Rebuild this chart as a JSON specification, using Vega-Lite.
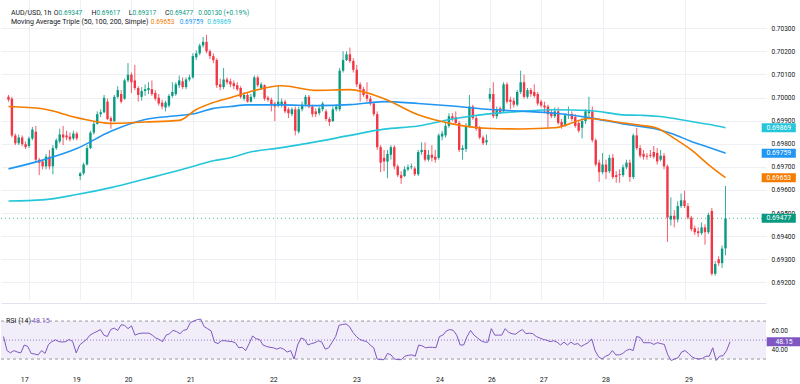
{
  "$schema": "https://vega.github.io/schema/vega-lite/v6.json",
  "padding": 0,
  "background": "white",
  "spacing": 5,
  "config": {
    "view": {"stroke": null},
    "font": "Roboto",
    "axis": {"labelFont": "Roboto", "labelColor": "#131722", "domain": false, "ticks": false, "gridColor": "#eef0f5", "gridWidth": 1, "labelOverlap": false}
  },
  "datasets": {
    "one": [{}],
    "candles": [
      {"i":0,"o":0.70003,"h":0.70011,"l":0.69982,"c":0.69990,"rsi":53.7},
      {"i":1,"o":0.69995,"h":0.70003,"l":0.69827,"c":0.69836,"rsi":38.9},
      {"i":2,"o":0.69836,"h":0.69844,"l":0.69794,"c":0.69802,"rsi":36.5},
      {"i":3,"o":0.69802,"h":0.69840,"l":0.69794,"c":0.69827,"rsi":38.9},
      {"i":4,"o":0.69827,"h":0.69836,"l":0.69790,"c":0.69798,"rsi":37.4},
      {"i":5,"o":0.69798,"h":0.69810,"l":0.69777,"c":0.69785,"rsi":36.5},
      {"i":6,"o":0.69790,"h":0.69831,"l":0.69781,"c":0.69823,"rsi":44.8},
      {"i":7,"o":0.69823,"h":0.69873,"l":0.69815,"c":0.69861,"rsi":43.3},
      {"i":8,"o":0.69852,"h":0.69877,"l":0.69723,"c":0.69731,"rsi":35.9},
      {"i":9,"o":0.69731,"h":0.69739,"l":0.69664,"c":0.69718,"rsi":35.3},
      {"i":10,"o":0.69723,"h":0.69731,"l":0.69689,"c":0.69702,"rsi":34.4},
      {"i":11,"o":0.69702,"h":0.69756,"l":0.69689,"c":0.69744,"rsi":38.9},
      {"i":12,"o":0.69744,"h":0.69773,"l":0.69689,"c":0.69702,"rsi":35.9},
      {"i":13,"o":0.69702,"h":0.69794,"l":0.69668,"c":0.69781,"rsi":45.4},
      {"i":14,"o":0.69781,"h":0.69823,"l":0.69773,"c":0.69815,"rsi":48.4},
      {"i":15,"o":0.69810,"h":0.69865,"l":0.69802,"c":0.69840,"rsi":50.1},
      {"i":16,"o":0.69840,"h":0.69877,"l":0.69794,"c":0.69827,"rsi":48.4},
      {"i":17,"o":0.69836,"h":0.69856,"l":0.69815,"c":0.69827,"rsi":47.9},
      {"i":18,"o":0.69831,"h":0.69848,"l":0.69810,"c":0.69819,"rsi":48.4},
      {"i":19,"o":0.69823,"h":0.69856,"l":0.69815,"c":0.69844,"rsi":50.7},
      {"i":20,"o":0.69844,"h":0.69852,"l":0.69815,"c":0.69823,"rsi":48.4},
      {"i":21,"o":0.69660,"h":0.69677,"l":0.69643,"c":0.69672,"rsi":36.5},
      {"i":22,"o":0.69672,"h":0.69718,"l":0.69664,"c":0.69710,"rsi":44.8},
      {"i":23,"o":0.69710,"h":0.69794,"l":0.69706,"c":0.69781,"rsi":47.8},
      {"i":24,"o":0.69781,"h":0.69856,"l":0.69777,"c":0.69848,"rsi":50.7},
      {"i":25,"o":0.69848,"h":0.69898,"l":0.69840,"c":0.69886,"rsi":55.2},
      {"i":26,"o":0.69886,"h":0.69940,"l":0.69882,"c":0.69928,"rsi":57.3},
      {"i":27,"o":0.69928,"h":0.69949,"l":0.69915,"c":0.69936,"rsi":59.0},
      {"i":28,"o":0.69936,"h":0.70011,"l":0.69932,"c":0.69999,"rsi":61.1},
      {"i":29,"o":0.69982,"h":0.69995,"l":0.69903,"c":0.69907,"rsi":55.2},
      {"i":30,"o":0.69911,"h":0.69919,"l":0.69865,"c":0.69898,"rsi":53.7},
      {"i":31,"o":0.69898,"h":0.70011,"l":0.69894,"c":0.70003,"rsi":61.1},
      {"i":32,"o":0.70003,"h":0.70049,"l":0.69995,"c":0.70032,"rsi":62.6},
      {"i":33,"o":0.70015,"h":0.70032,"l":0.69974,"c":0.69982,"rsi":60.2},
      {"i":34,"o":0.69995,"h":0.70082,"l":0.69990,"c":0.70074,"rsi":66.1},
      {"i":35,"o":0.70074,"h":0.70149,"l":0.70066,"c":0.70099,"rsi":65.5},
      {"i":36,"o":0.70099,"h":0.70108,"l":0.70020,"c":0.70066,"rsi":62.0},
      {"i":37,"o":0.70074,"h":0.70141,"l":0.70032,"c":0.70041,"rsi":65.0},
      {"i":38,"o":0.70041,"h":0.70049,"l":0.69982,"c":0.70011,"rsi":55.2},
      {"i":39,"o":0.70003,"h":0.70045,"l":0.69986,"c":0.70028,"rsi":56.7},
      {"i":40,"o":0.70028,"h":0.70057,"l":0.70007,"c":0.70036,"rsi":57.3},
      {"i":41,"o":0.70032,"h":0.70066,"l":0.70015,"c":0.70041,"rsi":57.3},
      {"i":42,"o":0.70036,"h":0.70074,"l":0.70007,"c":0.70015,"rsi":57.3},
      {"i":43,"o":0.70020,"h":0.70032,"l":0.69986,"c":0.69995,"rsi":55.2},
      {"i":44,"o":0.69999,"h":0.70015,"l":0.69965,"c":0.69974,"rsi":52.2},
      {"i":45,"o":0.69978,"h":0.69990,"l":0.69949,"c":0.69961,"rsi":50.7},
      {"i":46,"o":0.69957,"h":0.69986,"l":0.69940,"c":0.69978,"rsi":48.4},
      {"i":47,"o":0.69965,"h":0.70015,"l":0.69957,"c":0.70007,"rsi":55.2},
      {"i":48,"o":0.70007,"h":0.70066,"l":0.69999,"c":0.70024,"rsi":56.7},
      {"i":49,"o":0.70015,"h":0.70066,"l":0.70007,"c":0.70057,"rsi":60.2},
      {"i":50,"o":0.70053,"h":0.70095,"l":0.70041,"c":0.70074,"rsi":59.0},
      {"i":51,"o":0.70070,"h":0.70087,"l":0.70036,"c":0.70045,"rsi":56.7},
      {"i":52,"o":0.70045,"h":0.70087,"l":0.70036,"c":0.70078,"rsi":60.2},
      {"i":53,"o":0.70078,"h":0.70099,"l":0.70070,"c":0.70087,"rsi":61.1},
      {"i":54,"o":0.70087,"h":0.70191,"l":0.70082,"c":0.70179,"rsi":68.5},
      {"i":55,"o":0.70174,"h":0.70204,"l":0.70162,"c":0.70191,"rsi":70.0},
      {"i":56,"o":0.70191,"h":0.70233,"l":0.70183,"c":0.70225,"rsi":71.5},
      {"i":57,"o":0.70225,"h":0.70262,"l":0.70216,"c":0.70241,"rsi":72.1},
      {"i":58,"o":0.70241,"h":0.70271,"l":0.70191,"c":0.70200,"rsi":64.1},
      {"i":59,"o":0.70200,"h":0.70208,"l":0.70166,"c":0.70179,"rsi":62.0},
      {"i":60,"o":0.70179,"h":0.70191,"l":0.70149,"c":0.70162,"rsi":59.6},
      {"i":61,"o":0.70162,"h":0.70170,"l":0.70041,"c":0.70053,"rsi":47.8},
      {"i":62,"o":0.70057,"h":0.70082,"l":0.70032,"c":0.70045,"rsi":46.3},
      {"i":63,"o":0.70045,"h":0.70128,"l":0.70036,"c":0.70078,"rsi":49.3},
      {"i":64,"o":0.70078,"h":0.70087,"l":0.70057,"c":0.70066,"rsi":49.3},
      {"i":65,"o":0.70070,"h":0.70082,"l":0.70045,"c":0.70057,"rsi":48.7},
      {"i":66,"o":0.70062,"h":0.70074,"l":0.70036,"c":0.70049,"rsi":48.4},
      {"i":67,"o":0.70053,"h":0.70066,"l":0.70028,"c":0.70036,"rsi":47.2},
      {"i":68,"o":0.70041,"h":0.70049,"l":0.69995,"c":0.70003,"rsi":41.9},
      {"i":69,"o":0.69995,"h":0.70024,"l":0.69986,"c":0.70011,"rsi":42.4},
      {"i":70,"o":0.70011,"h":0.70024,"l":0.69978,"c":0.69982,"rsi":38.9},
      {"i":71,"o":0.69982,"h":0.70015,"l":0.69978,"c":0.70003,"rsi":46.3},
      {"i":72,"o":0.70003,"h":0.70095,"l":0.69995,"c":0.70087,"rsi":54.3},
      {"i":73,"o":0.70087,"h":0.70095,"l":0.70045,"c":0.70053,"rsi":51.3},
      {"i":74,"o":0.70041,"h":0.70066,"l":0.70032,"c":0.70057,"rsi":50.7},
      {"i":75,"o":0.70053,"h":0.70057,"l":0.69986,"c":0.69995,"rsi":44.8},
      {"i":76,"o":0.69999,"h":0.70007,"l":0.69982,"c":0.69990,"rsi":43.3},
      {"i":77,"o":0.69990,"h":0.69999,"l":0.69940,"c":0.69969,"rsi":42.4},
      {"i":78,"o":0.69974,"h":0.69982,"l":0.69898,"c":0.69961,"rsi":41.9},
      {"i":79,"o":0.69965,"h":0.70053,"l":0.69957,"c":0.69982,"rsi":40.4},
      {"i":80,"o":0.69969,"h":0.69995,"l":0.69957,"c":0.69982,"rsi":41.9},
      {"i":81,"o":0.69982,"h":0.69990,"l":0.69932,"c":0.69940,"rsi":40.4},
      {"i":82,"o":0.69949,"h":0.69957,"l":0.69911,"c":0.69932,"rsi":37.4},
      {"i":83,"o":0.69928,"h":0.69957,"l":0.69919,"c":0.69949,"rsi":38.9},
      {"i":84,"o":0.69949,"h":0.69961,"l":0.69836,"c":0.69856,"rsi":30.0},
      {"i":85,"o":0.69852,"h":0.69961,"l":0.69844,"c":0.69949,"rsi":44.8},
      {"i":86,"o":0.69949,"h":0.69982,"l":0.69940,"c":0.69969,"rsi":52.2},
      {"i":87,"o":0.69969,"h":0.70011,"l":0.69961,"c":0.70003,"rsi":50.7},
      {"i":88,"o":0.70003,"h":0.70011,"l":0.69953,"c":0.69961,"rsi":44.8},
      {"i":89,"o":0.69961,"h":0.69969,"l":0.69915,"c":0.69928,"rsi":46.3},
      {"i":90,"o":0.69940,"h":0.69953,"l":0.69915,"c":0.69928,"rsi":47.2},
      {"i":91,"o":0.69932,"h":0.69961,"l":0.69923,"c":0.69953,"rsi":49.3},
      {"i":92,"o":0.69949,"h":0.69982,"l":0.69940,"c":0.69974,"rsi":47.8},
      {"i":93,"o":0.69940,"h":0.69949,"l":0.69898,"c":0.69907,"rsi":40.4},
      {"i":94,"o":0.69907,"h":0.69915,"l":0.69877,"c":0.69894,"rsi":41.9},
      {"i":95,"o":0.69898,"h":0.69961,"l":0.69894,"c":0.69949,"rsi":47.8},
      {"i":96,"o":0.69949,"h":0.69969,"l":0.69940,"c":0.69961,"rsi":53.7},
      {"i":97,"o":0.69949,"h":0.70128,"l":0.69940,"c":0.70116,"rsi":65.6},
      {"i":98,"o":0.70116,"h":0.70200,"l":0.70108,"c":0.70162,"rsi":66.4},
      {"i":99,"o":0.70162,"h":0.70200,"l":0.70158,"c":0.70187,"rsi":67.0},
      {"i":100,"o":0.70187,"h":0.70216,"l":0.70149,"c":0.70158,"rsi":64.1},
      {"i":101,"o":0.70158,"h":0.70170,"l":0.70108,"c":0.70120,"rsi":58.1},
      {"i":102,"o":0.70120,"h":0.70141,"l":0.70045,"c":0.70057,"rsi":53.7},
      {"i":103,"o":0.70057,"h":0.70066,"l":0.69982,"c":0.70036,"rsi":50.7},
      {"i":104,"o":0.70036,"h":0.70045,"l":0.70003,"c":0.70011,"rsi":49.3},
      {"i":105,"o":0.70011,"h":0.70066,"l":0.69982,"c":0.69995,"rsi":48.4},
      {"i":106,"o":0.69995,"h":0.70007,"l":0.69965,"c":0.69974,"rsi":44.8},
      {"i":107,"o":0.69974,"h":0.69982,"l":0.69919,"c":0.69928,"rsi":41.9},
      {"i":108,"o":0.69928,"h":0.69940,"l":0.69773,"c":0.69785,"rsi":30.0},
      {"i":109,"o":0.69785,"h":0.69794,"l":0.69677,"c":0.69718,"rsi":29.4},
      {"i":110,"o":0.69739,"h":0.69773,"l":0.69681,"c":0.69723,"rsi":29.4},
      {"i":111,"o":0.69723,"h":0.69773,"l":0.69651,"c":0.69756,"rsi":35.9},
      {"i":112,"o":0.69752,"h":0.69794,"l":0.69731,"c":0.69785,"rsi":34.4},
      {"i":113,"o":0.69785,"h":0.69794,"l":0.69689,"c":0.69702,"rsi":30.0},
      {"i":114,"o":0.69702,"h":0.69710,"l":0.69656,"c":0.69664,"rsi":29.4},
      {"i":115,"o":0.69664,"h":0.69681,"l":0.69626,"c":0.69651,"rsi":29.4},
      {"i":116,"o":0.69660,"h":0.69702,"l":0.69656,"c":0.69689,"rsi":33.0},
      {"i":117,"o":0.69689,"h":0.69710,"l":0.69681,"c":0.69698,"rsi":33.9},
      {"i":118,"o":0.69698,"h":0.69714,"l":0.69689,"c":0.69702,"rsi":34.4},
      {"i":119,"o":0.69693,"h":0.69702,"l":0.69660,"c":0.69668,"rsi":33.0},
      {"i":120,"o":0.69668,"h":0.69773,"l":0.69660,"c":0.69764,"rsi":44.8},
      {"i":121,"o":0.69764,"h":0.69806,"l":0.69752,"c":0.69773,"rsi":43.9},
      {"i":122,"o":0.69773,"h":0.69806,"l":0.69723,"c":0.69731,"rsi":41.9},
      {"i":123,"o":0.69731,"h":0.69773,"l":0.69723,"c":0.69752,"rsi":42.4},
      {"i":124,"o":0.69752,"h":0.69794,"l":0.69723,"c":0.69739,"rsi":42.4},
      {"i":125,"o":0.69744,"h":0.69773,"l":0.69718,"c":0.69731,"rsi":41.9},
      {"i":126,"o":0.69739,"h":0.69844,"l":0.69731,"c":0.69836,"rsi":53.7},
      {"i":127,"o":0.69831,"h":0.69856,"l":0.69815,"c":0.69844,"rsi":55.2},
      {"i":128,"o":0.69836,"h":0.69890,"l":0.69827,"c":0.69877,"rsi":59.6},
      {"i":129,"o":0.69877,"h":0.69932,"l":0.69869,"c":0.69919,"rsi":61.1},
      {"i":130,"o":0.69919,"h":0.69932,"l":0.69898,"c":0.69907,"rsi":60.2},
      {"i":131,"o":0.69915,"h":0.69940,"l":0.69882,"c":0.69890,"rsi":55.2},
      {"i":132,"o":0.69890,"h":0.69898,"l":0.69764,"c":0.69773,"rsi":44.8},
      {"i":133,"o":0.69773,"h":0.69794,"l":0.69731,"c":0.69781,"rsi":44.8},
      {"i":134,"o":0.69777,"h":0.69890,"l":0.69764,"c":0.69877,"rsi":53.7},
      {"i":135,"o":0.69877,"h":0.70011,"l":0.69869,"c":0.69961,"rsi":60.2},
      {"i":136,"o":0.69961,"h":0.69969,"l":0.69903,"c":0.69911,"rsi":55.2},
      {"i":137,"o":0.69911,"h":0.69919,"l":0.69856,"c":0.69865,"rsi":52.2},
      {"i":138,"o":0.69869,"h":0.69877,"l":0.69819,"c":0.69827,"rsi":49.3},
      {"i":139,"o":0.69827,"h":0.69836,"l":0.69794,"c":0.69802,"rsi":47.8},
      {"i":140,"o":0.69806,"h":0.69840,"l":0.69794,"c":0.69815,"rsi":47.8},
      {"i":141,"o":0.69995,"h":0.70041,"l":0.69982,"c":0.70015,"rsi":62.0},
      {"i":142,"o":0.70015,"h":0.70066,"l":0.69911,"c":0.69919,"rsi":55.2},
      {"i":143,"o":0.69919,"h":0.69961,"l":0.69907,"c":0.69949,"rsi":55.2},
      {"i":144,"o":0.69953,"h":0.69961,"l":0.69928,"c":0.69932,"rsi":55.2},
      {"i":145,"o":0.69940,"h":0.70066,"l":0.69936,"c":0.70057,"rsi":62.0},
      {"i":146,"o":0.70057,"h":0.70066,"l":0.69974,"c":0.69982,"rsi":58.1},
      {"i":147,"o":0.69990,"h":0.70003,"l":0.69949,"c":0.69982,"rsi":56.7},
      {"i":148,"o":0.69986,"h":0.69999,"l":0.69957,"c":0.69969,"rsi":56.1},
      {"i":149,"o":0.69969,"h":0.70032,"l":0.69961,"c":0.70024,"rsi":59.0},
      {"i":150,"o":0.70024,"h":0.70116,"l":0.70015,"c":0.70066,"rsi":61.1},
      {"i":151,"o":0.70066,"h":0.70099,"l":0.69995,"c":0.70003,"rsi":56.7},
      {"i":152,"o":0.70003,"h":0.70041,"l":0.69995,"c":0.70032,"rsi":57.3},
      {"i":153,"o":0.70032,"h":0.70041,"l":0.70003,"c":0.70015,"rsi":56.7},
      {"i":154,"o":0.70024,"h":0.70057,"l":0.69999,"c":0.70007,"rsi":53.7},
      {"i":155,"o":0.70015,"h":0.70024,"l":0.69965,"c":0.69974,"rsi":52.2},
      {"i":156,"o":0.69982,"h":0.69990,"l":0.69957,"c":0.69965,"rsi":50.7},
      {"i":157,"o":0.69965,"h":0.69982,"l":0.69932,"c":0.69957,"rsi":49.9},
      {"i":158,"o":0.69961,"h":0.69969,"l":0.69865,"c":0.69928,"rsi":48.4},
      {"i":159,"o":0.69936,"h":0.69949,"l":0.69911,"c":0.69919,"rsi":49.3},
      {"i":160,"o":0.69919,"h":0.69957,"l":0.69911,"c":0.69940,"rsi":47.8},
      {"i":161,"o":0.69940,"h":0.69957,"l":0.69882,"c":0.69890,"rsi":44.8},
      {"i":162,"o":0.69894,"h":0.69907,"l":0.69865,"c":0.69873,"rsi":47.8},
      {"i":163,"o":0.69882,"h":0.69932,"l":0.69873,"c":0.69923,"rsi":44.8},
      {"i":164,"o":0.69923,"h":0.69961,"l":0.69907,"c":0.69928,"rsi":47.8},
      {"i":165,"o":0.69928,"h":0.69940,"l":0.69898,"c":0.69907,"rsi":45.4},
      {"i":166,"o":0.69915,"h":0.69928,"l":0.69869,"c":0.69877,"rsi":46.3},
      {"i":167,"o":0.69890,"h":0.69898,"l":0.69848,"c":0.69856,"rsi":43.3},
      {"i":168,"o":0.69869,"h":0.69911,"l":0.69823,"c":0.69898,"rsi":45.4},
      {"i":169,"o":0.69898,"h":0.69949,"l":0.69886,"c":0.69940,"rsi":47.2},
      {"i":170,"o":0.69932,"h":0.70003,"l":0.69911,"c":0.69940,"rsi":51.3},
      {"i":171,"o":0.69940,"h":0.69961,"l":0.69806,"c":0.69815,"rsi":38.9},
      {"i":172,"o":0.69815,"h":0.69823,"l":0.69702,"c":0.69710,"rsi":32.4},
      {"i":173,"o":0.69718,"h":0.69731,"l":0.69635,"c":0.69677,"rsi":30.0},
      {"i":174,"o":0.69677,"h":0.69760,"l":0.69668,"c":0.69710,"rsi":33.0},
      {"i":175,"o":0.69710,"h":0.69731,"l":0.69647,"c":0.69677,"rsi":34.4},
      {"i":176,"o":0.69681,"h":0.69752,"l":0.69672,"c":0.69739,"rsi":38.9},
      {"i":177,"o":0.69739,"h":0.69756,"l":0.69647,"c":0.69656,"rsi":34.4},
      {"i":178,"o":0.69664,"h":0.69681,"l":0.69631,"c":0.69656,"rsi":34.4},
      {"i":179,"o":0.69668,"h":0.69689,"l":0.69631,"c":0.69664,"rsi":35.9},
      {"i":180,"o":0.69664,"h":0.69710,"l":0.69656,"c":0.69698,"rsi":38.9},
      {"i":181,"o":0.69698,"h":0.69731,"l":0.69689,"c":0.69718,"rsi":40.4},
      {"i":182,"o":0.69718,"h":0.69731,"l":0.69635,"c":0.69656,"rsi":38.9},
      {"i":183,"o":0.69656,"h":0.69844,"l":0.69647,"c":0.69836,"rsi":53.7},
      {"i":184,"o":0.69836,"h":0.69869,"l":0.69773,"c":0.69781,"rsi":52.8},
      {"i":185,"o":0.69781,"h":0.69794,"l":0.69739,"c":0.69748,"rsi":47.2},
      {"i":186,"o":0.69756,"h":0.69773,"l":0.69731,"c":0.69744,"rsi":47.2},
      {"i":187,"o":0.69748,"h":0.69760,"l":0.69731,"c":0.69744,"rsi":47.2},
      {"i":188,"o":0.69752,"h":0.69773,"l":0.69739,"c":0.69748,"rsi":45.4},
      {"i":189,"o":0.69764,"h":0.69790,"l":0.69735,"c":0.69744,"rsi":47.2},
      {"i":190,"o":0.69760,"h":0.69781,"l":0.69710,"c":0.69723,"rsi":46.3},
      {"i":191,"o":0.69731,"h":0.69773,"l":0.69723,"c":0.69748,"rsi":45.4},
      {"i":192,"o":0.69748,"h":0.69760,"l":0.69689,"c":0.69702,"rsi":34.4},
      {"i":193,"o":0.69702,"h":0.69710,"l":0.69375,"c":0.69480,"rsi":28.5},
      {"i":194,"o":0.69472,"h":0.69568,"l":0.69446,"c":0.69488,"rsi":30.0},
      {"i":195,"o":0.69488,"h":0.69513,"l":0.69438,"c":0.69472,"rsi":31.5},
      {"i":196,"o":0.69472,"h":0.69551,"l":0.69459,"c":0.69530,"rsi":37.4},
      {"i":197,"o":0.69530,"h":0.69585,"l":0.69522,"c":0.69555,"rsi":38.9},
      {"i":198,"o":0.69555,"h":0.69597,"l":0.69522,"c":0.69530,"rsi":35.9},
      {"i":199,"o":0.69530,"h":0.69543,"l":0.69472,"c":0.69480,"rsi":32.4},
      {"i":200,"o":0.69480,"h":0.69488,"l":0.69421,"c":0.69430,"rsi":30.6},
      {"i":201,"o":0.69434,"h":0.69446,"l":0.69405,"c":0.69417,"rsi":30.0},
      {"i":202,"o":0.69421,"h":0.69438,"l":0.69396,"c":0.69413,"rsi":30.6},
      {"i":203,"o":0.69413,"h":0.69459,"l":0.69405,"c":0.69438,"rsi":33.0},
      {"i":204,"o":0.69438,"h":0.69451,"l":0.69363,"c":0.69417,"rsi":33.0},
      {"i":205,"o":0.69417,"h":0.69501,"l":0.69409,"c":0.69492,"rsi":41.9},
      {"i":206,"o":0.69509,"h":0.69522,"l":0.69229,"c":0.69237,"rsi":28.5},
      {"i":207,"o":0.69237,"h":0.69292,"l":0.69229,"c":0.69279,"rsi":33.0},
      {"i":208,"o":0.69300,"h":0.69313,"l":0.69271,"c":0.69283,"rsi":33.6},
      {"i":209,"o":0.69283,"h":0.69359,"l":0.69262,"c":0.69346,"rsi":38.9},
      {"i":210,"o":0.69347,"h":0.69617,"l":0.69317,"c":0.69477,"rsi":48.15}
    ],
    "ma": [
      {"i":0,"ma50":0.69961,"ma100":0.69691,"ma200":0.69552},
      {"i":10,"ma50":0.69951,"ma100":0.69729,"ma200":0.69557},
      {"i":20,"ma50":0.69913,"ma100":0.69779,"ma200":0.69580},
      {"i":30,"ma50":0.69888,"ma100":0.69854,"ma200":0.69610},
      {"i":40,"ma50":0.69894,"ma100":0.69905,"ma200":0.69647},
      {"i":50,"ma50":0.69901,"ma100":0.69922,"ma200":0.69685},
      {"i":55,"ma50":0.69948,"ma100":0.69932,"ma200":0.69706},
      {"i":60,"ma50":0.69978,"ma100":0.69953,"ma200":0.69726},
      {"i":65,"ma50":0.69999,"ma100":0.69961,"ma200":0.69739},
      {"i":70,"ma50":0.70022,"ma100":0.69968,"ma200":0.69761},
      {"i":80,"ma50":0.70051,"ma100":0.69968,"ma200":0.69783},
      {"i":90,"ma50":0.70031,"ma100":0.69965,"ma200":0.69808},
      {"i":100,"ma50":0.70034,"ma100":0.69969,"ma200":0.69836},
      {"i":110,"ma50":0.69995,"ma100":0.69982,"ma200":0.69863},
      {"i":120,"ma50":0.69925,"ma100":0.69974,"ma200":0.69877},
      {"i":130,"ma50":0.69886,"ma100":0.69963,"ma200":0.69907},
      {"i":140,"ma50":0.69867,"ma100":0.69949,"ma200":0.69928},
      {"i":150,"ma50":0.69864,"ma100":0.69941,"ma200":0.69940},
      {"i":160,"ma50":0.69869,"ma100":0.69932,"ma200":0.69947},
      {"i":170,"ma50":0.69909,"ma100":0.69913,"ma200":0.69944},
      {"i":180,"ma50":0.69890,"ma100":0.69886,"ma200":0.69925},
      {"i":185,"ma50":0.69880,"ma100":0.69875,"ma200":0.69923},
      {"i":190,"ma50":0.69867,"ma100":0.69863,"ma200":0.69919},
      {"i":195,"ma50":0.69823,"ma100":0.69840,"ma200":0.69909},
      {"i":200,"ma50":0.69773,"ma100":0.69810,"ma200":0.69896},
      {"i":205,"ma50":0.69710,"ma100":0.69785,"ma200":0.69884},
      {"i":210,"ma50":0.69653,"ma100":0.69759,"ma200":0.69869}
    ],
    "tags": [
      {"series":"MA200","v":0.69869},
      {"series":"MA100","v":0.69759},
      {"series":"MA50","v":0.69653},
      {"series":"Close","v":0.69477}
    ]
  },
  "vconcat": [
    {
      "width": 765,
      "height": 300,
      "resolve": {"axis": {"y": "independent"}},
      "layer": [
        {
          "data": {"name": "candles"},
          "mark": {"type": "rule", "strokeWidth": 1, "opacity": 0.8},
          "encoding": {
            "x": {"field": "i", "type": "quantitative", "title": null,
              "scale": {"domain": [-0.73, 220.4], "nice": false, "zero": false},
              "axis": {"values": [6,21,36,54,78,102,126,141,156,174,198], "labels": false, "grid": true, "title": null, "domain": true, "domainColor": "#e0e3eb", "domainWidth": 1, "offset": 3}},
            "y": {"field": "l", "type": "quantitative", "title": null,
              "scale": {"domain": [0.691452, 0.704004], "nice": false, "zero": false},
              "axis": {"orient": "right", "values": [0.692,0.693,0.694,0.695,0.696,0.697,0.698,0.699,0.7,0.701,0.702,0.703], "format": ".5f", "labelFontSize": 6.5, "labelPadding": 5, "labelOverlap": false, "grid": true, "title": null}},
            "y2": {"field": "h"},
            "color": {"condition": {"test": "datum.c >= datum.o", "value": "#089981"}, "value": "#f23645"}
          }
        },
        {
          "data": {"name": "candles"},
          "mark": {"type": "bar", "width": 2.4},
          "encoding": {
            "x": {"field": "i", "type": "quantitative", "title": null},
            "y": {"field": "o", "type": "quantitative", "title": null, "axis": null},
            "y2": {"field": "c"},
            "color": {"condition": {"test": "datum.c >= datum.o", "value": "#089981"}, "value": "#f23645"}
          }
        },
        {
          "data": {"name": "ma"},
          "mark": {"type": "line", "strokeWidth": 1.6, "interpolate": "monotone", "color": "#26c6da"},
          "encoding": {"x": {"field": "i", "type": "quantitative", "title": null}, "y": {"field": "ma200", "type": "quantitative", "title": null, "axis": null}}
        },
        {
          "data": {"name": "ma"},
          "mark": {"type": "line", "strokeWidth": 1.6, "interpolate": "monotone", "color": "#2196f3"},
          "encoding": {"x": {"field": "i", "type": "quantitative", "title": null}, "y": {"field": "ma100", "type": "quantitative", "title": null, "axis": null}}
        },
        {
          "data": {"name": "ma"},
          "mark": {"type": "line", "strokeWidth": 1.6, "interpolate": "monotone", "color": "#f57c00"},
          "encoding": {"x": {"field": "i", "type": "quantitative", "title": null}, "y": {"field": "ma50", "type": "quantitative", "title": null, "axis": null}}
        },
        {
          "data": {"name": "one"},
          "mark": {"type": "rule", "color": "#089981", "strokeDash": [1, 3], "strokeWidth": 1, "opacity": 0.7},
          "encoding": {"y": {"datum": 0.69477, "axis": null}}
        },
        {
          "data": {"name": "tags"},
          "mark": {"type": "bar", "height": 9},
          "encoding": {
            "x": {"datum": 220.6}, "x2": {"datum": 230.6},
            "y": {"field": "v", "type": "quantitative", "title": null, "axis": null},
            "color": {"field": "series", "type": "nominal", "legend": null,
              "scale": {"domain": ["MA50", "MA100", "MA200", "Close"], "range": ["#f57c00", "#2196f3", "#26c6da", "#089981"]}}
          }
        },
        {
          "data": {"name": "tags"},
          "mark": {"type": "text", "color": "white", "fontSize": 6.8, "align": "center", "baseline": "middle"},
          "encoding": {
            "x": {"datum": 225.6},
            "y": {"field": "v", "type": "quantitative", "title": null, "axis": null},
            "text": {"field": "v", "type": "quantitative", "format": ".5f"}
          }
        },
        {"data": {"name": "one"}, "mark": {"type": "text", "text": "AUD/USD, 1h", "fontSize": 7, "align": "left", "baseline": "middle", "color": "#131722"}, "encoding": {"x": {"datum": 0.72}, "y": {"datum": 0.70367, "axis": null}}},
        {"data": {"name": "one"}, "mark": {"type": "text", "text": "O", "fontSize": 7, "align": "right", "baseline": "middle", "color": "#131722"}, "encoding": {"x": {"datum": 14.68}, "y": {"datum": 0.70367, "axis": null}}},
        {"data": {"name": "one"}, "mark": {"type": "text", "text": "0.69347", "fontSize": 6.5, "align": "left", "baseline": "middle", "color": "#089981"}, "encoding": {"x": {"datum": 14.68}, "y": {"datum": 0.70367, "axis": null}}},
        {"data": {"name": "one"}, "mark": {"type": "text", "text": "H", "fontSize": 7, "align": "right", "baseline": "middle", "color": "#131722"}, "encoding": {"x": {"datum": 25.77}, "y": {"datum": 0.70367, "axis": null}}},
        {"data": {"name": "one"}, "mark": {"type": "text", "text": "0.69617", "fontSize": 6.5, "align": "left", "baseline": "middle", "color": "#089981"}, "encoding": {"x": {"datum": 25.77}, "y": {"datum": 0.70367, "axis": null}}},
        {"data": {"name": "one"}, "mark": {"type": "text", "text": "L", "fontSize": 7, "align": "right", "baseline": "middle", "color": "#131722"}, "encoding": {"x": {"datum": 36.35}, "y": {"datum": 0.70367, "axis": null}}},
        {"data": {"name": "one"}, "mark": {"type": "text", "text": "0.69317", "fontSize": 6.5, "align": "left", "baseline": "middle", "color": "#089981"}, "encoding": {"x": {"datum": 36.35}, "y": {"datum": 0.70367, "axis": null}}},
        {"data": {"name": "one"}, "mark": {"type": "text", "text": "C", "fontSize": 7, "align": "right", "baseline": "middle", "color": "#131722"}, "encoding": {"x": {"datum": 47.16}, "y": {"datum": 0.70367, "axis": null}}},
        {"data": {"name": "one"}, "mark": {"type": "text", "text": "0.69477", "fontSize": 6.5, "align": "left", "baseline": "middle", "color": "#089981"}, "encoding": {"x": {"datum": 47.16}, "y": {"datum": 0.70367, "axis": null}}},
        {"data": {"name": "one"}, "mark": {"type": "text", "text": "0.00130 (+0.19%)", "fontSize": 6.5, "align": "left", "baseline": "middle", "color": "#089981"}, "encoding": {"x": {"datum": 55.6}, "y": {"datum": 0.70367, "axis": null}}},
        {"data": {"name": "one"}, "mark": {"type": "text", "text": "Moving Average Triple (50, 100, 200, Simple)", "fontSize": 7, "align": "left", "baseline": "middle", "color": "#131722"}, "encoding": {"x": {"datum": 0.72}, "y": {"datum": 0.70325, "axis": null}}},
        {"data": {"name": "one"}, "mark": {"type": "text", "text": "0.69653", "fontSize": 6.5, "align": "left", "baseline": "middle", "color": "#f57c00"}, "encoding": {"x": {"datum": 41.67}, "y": {"datum": 0.70325, "axis": null}}},
        {"data": {"name": "one"}, "mark": {"type": "text", "text": "0.69759", "fontSize": 6.5, "align": "left", "baseline": "middle", "color": "#2196f3"}, "encoding": {"x": {"datum": 50.14}, "y": {"datum": 0.70325, "axis": null}}},
        {"data": {"name": "one"}, "mark": {"type": "text", "text": "0.69869", "fontSize": 6.5, "align": "left", "baseline": "middle", "color": "#26c6da"}, "encoding": {"x": {"datum": 58.23}, "y": {"datum": 0.70325, "axis": null}}}
      ]
    },
    {
      "width": 765,
      "height": 61,
      "layer": [
        {
          "data": {"name": "one"},
          "mark": {"type": "rect", "color": "#7e57c2", "opacity": 0.1},
          "encoding": {
            "y": {"datum": 70, "type": "quantitative",
              "scale": {"domain": [24.8, 78.5], "nice": false, "zero": false},
              "axis": {"orient": "right", "values": [40, 60], "format": ".2f", "labelFontSize": 6.5, "labelPadding": 5, "grid": false, "title": null}},
            "y2": {"datum": 30}
          }
        },
        {"data": {"name": "one"}, "mark": {"type": "rule", "color": "#9598a1", "strokeDash": [3, 3], "strokeWidth": 1}, "encoding": {"y": {"datum": 70}}},
        {"data": {"name": "one"}, "mark": {"type": "rule", "color": "#9598a1", "strokeDash": [3, 3], "strokeWidth": 1}, "encoding": {"y": {"datum": 30}}},
        {"data": {"name": "one"}, "mark": {"type": "rule", "color": "#7e57c2", "strokeDash": [1, 2], "strokeWidth": 1, "opacity": 0.8}, "encoding": {"y": {"datum": 50}}},
        {
          "data": {"name": "candles"},
          "mark": {"type": "line", "color": "#7e57c2", "strokeWidth": 1},
          "encoding": {
            "x": {"field": "i", "type": "quantitative", "title": null,
              "scale": {"domain": [-0.73, 220.4], "nice": false, "zero": false},
              "axis": {"values": [6,21,36,54,78,102,126,141,156,174,198], "grid": false, "title": null, "labelFontSize": 7, "labelPadding": 6,
                "labelExpr": "['17','19','20','21','22','23','24','26','27','28','29'][indexof([6,21,36,54,78,102,126,141,156,174,198], datum.value)]"}},
            "y": {"field": "rsi", "type": "quantitative", "title": null}
          }
        },
        {
          "data": {"name": "one"},
          "mark": {"type": "bar", "height": 9, "color": "#7e57c2"},
          "encoding": {"x": {"datum": 220.6}, "x2": {"datum": 230.6}, "y": {"datum": 48.15}}
        },
        {
          "data": {"name": "one"},
          "mark": {"type": "text", "text": "48.15", "color": "white", "fontSize": 6.8, "align": "center", "baseline": "middle"},
          "encoding": {"x": {"datum": 225.6}, "y": {"datum": 48.15}}
        },
        {"data": {"name": "one"}, "mark": {"type": "text", "text": "RSI (14)", "fontSize": 7, "align": "left", "baseline": "middle", "color": "#131722"}, "encoding": {"x": {"datum": 0.72}, "y": {"datum": 70}}},
        {"data": {"name": "one"}, "mark": {"type": "text", "text": "48.15", "fontSize": 7, "align": "left", "baseline": "middle", "color": "#7e57c2"}, "encoding": {"x": {"datum": 8.23}, "y": {"datum": 70}}}
      ]
    }
  ]
}
